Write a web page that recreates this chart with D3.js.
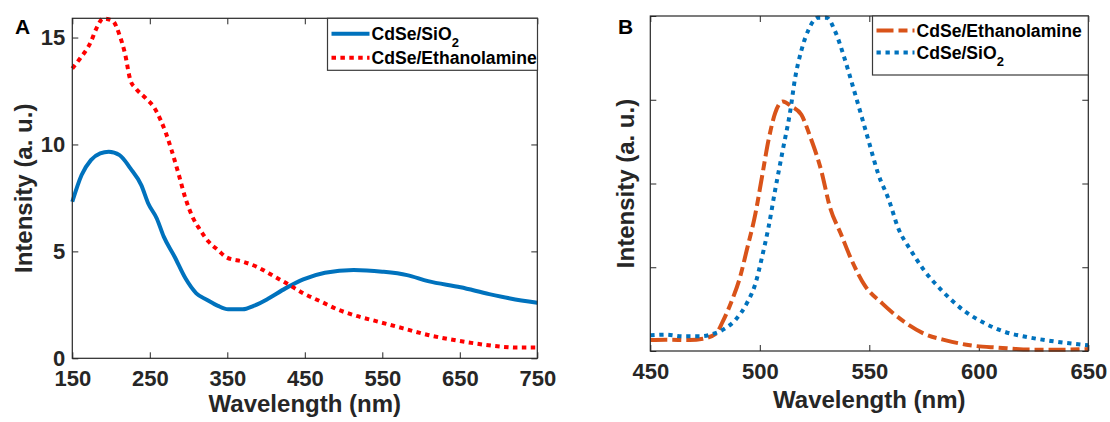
<!DOCTYPE html>
<html>
<head>
<meta charset="utf-8">
<script src="https://cdn.jsdelivr.net/npm/d3@7/dist/d3.min.js"></script>
<style>
  html, body { margin: 0; padding: 0; background: #fff; }
  svg { display: block; font-family: "Liberation Sans", Arial, sans-serif; font-weight: bold; }
</style>
</head>
<body>
<svg id="chart" width="1110" height="422"></svg>
<script>
// ---- Panel A: absorption-type spectra ----
const aSio2Wl  = [150, 162, 174, 186, 197, 211, 225, 239, 248, 259, 268, 282, 296, 310, 324, 338, 351, 370, 384, 402, 425, 448, 476, 513, 550, 582, 609, 651, 688, 715, 750];
const aSio2Int = [7.32, 8.57, 9.27, 9.58, 9.66, 9.5, 8.88, 8.1, 7.24, 6.54, 5.69, 4.75, 3.74, 3.04, 2.73, 2.45, 2.29, 2.29, 2.45, 2.77, 3.27, 3.69, 4.0, 4.13, 4.05, 3.89, 3.61, 3.32, 3.0, 2.8, 2.6];
const aEthWl   = [150, 160, 174, 181, 190, 202, 211, 218, 225, 232, 245, 255, 264, 271, 278, 287, 296, 305, 315, 326, 338, 349, 370, 388, 411, 430, 448, 471, 494, 517, 545, 577, 609, 637, 669, 702, 725, 750];
const aEthInt  = [13.55, 14.02, 14.8, 15.42, 15.89, 15.78, 15.11, 14.25, 13.0, 12.62, 12.15, 11.76, 11.14, 10.51, 9.74, 8.64, 7.48, 6.62, 6.0, 5.45, 5.06, 4.72, 4.52, 4.28, 3.82, 3.43, 3.04, 2.65, 2.26, 1.98, 1.71, 1.4, 1.09, 0.89, 0.7, 0.55, 0.5, 0.5];
const aTicksX = [150, 250, 350, 450, 550, 650, 750];
const aTicksY = [0, 5, 10, 15];

// ---- Panel B: emission spectra ----
const bEthWl  = [450, 457, 468, 474, 480, 483, 487, 491, 494, 498, 501, 504, 507, 510.5, 514.5, 519, 523, 528, 532, 537, 542, 548, 556, 566, 575, 585, 596, 609, 625, 638, 650];
const bEthInt = [0.13, 0.135, 0.13, 0.147, 0.207, 0.347, 0.586, 0.884, 1.2, 1.64, 2.08, 2.52, 2.84, 2.98, 2.92, 2.82, 2.56, 2.16, 1.72, 1.4, 1.08, 0.78, 0.566, 0.347, 0.207, 0.127, 0.068, 0.04, 0.016, 0.016, 0.024];
const bSio2Wl  = [450, 457, 465, 473, 479, 484, 489, 494, 498, 501, 504, 507, 510.5, 514, 516, 519, 522.5, 526.5, 530.5, 534.5, 538.5, 542.5, 546.5, 550, 554, 559, 563, 569, 575, 583, 593, 603, 612, 622, 633, 650];
const bSio2Int = [0.187, 0.195, 0.175, 0.175, 0.207, 0.267, 0.375, 0.566, 0.805, 1.12, 1.48, 1.92, 2.40, 2.88, 3.24, 3.59, 3.85, 3.98, 3.98, 3.81, 3.51, 3.16, 2.80, 2.48, 2.12, 1.80, 1.48, 1.20, 0.964, 0.725, 0.486, 0.327, 0.227, 0.167, 0.12, 0.068];
const bTicksX = [450, 500, 550, 600, 650];
const bTicksY = [0, 1, 2, 3, 4];

const COL_BLUE = "#0072BD";
const COL_RED = "#FF0000";
const COL_ORANGE = "#D95319";
const INK = "#262626";
const DOTS = "4.5 4.4";
const DASH_DOT = "17 5 9 5";

const svg = d3.select("#chart");

function panel(opt) {
  const g = svg.append("g");
  const x = d3.scaleLinear().domain(opt.xDomain).range([opt.left, opt.right]);
  const y = d3.scaleLinear().domain(opt.yDomain).range([opt.bottom, opt.top]);

  // ticks pointing inward on all four sides
  const tick = 6;
  g.append("g").attr("transform", `translate(0,${opt.bottom})`)
    .call(d3.axisBottom(x).tickValues(opt.xTicks).tickSizeInner(-tick).tickSizeOuter(0).tickPadding(12).tickFormat(d3.format("d")));
  g.append("g").attr("transform", `translate(0,${opt.top})`)
    .call(d3.axisTop(x).tickValues(opt.xTicks).tickSizeInner(-tick).tickSizeOuter(0).tickFormat(""));
  g.append("g").attr("transform", `translate(${opt.left},0)`)
    .call(d3.axisLeft(y).tickValues(opt.yTicks).tickSizeInner(-tick).tickSizeOuter(0).tickPadding(7)
      .tickFormat(opt.yLabels ? d3.format("d") : ""));
  g.append("g").attr("transform", `translate(${opt.right},0)`)
    .call(d3.axisRight(y).tickValues(opt.yTicks).tickSizeInner(-tick).tickSizeOuter(0).tickFormat(""));

  g.selectAll(".domain").remove();
  g.selectAll(".tick line").attr("stroke", INK).attr("stroke-width", 1);
  g.selectAll(".tick text").attr("fill", INK).attr("font-size", 22)
    .attr("font-family", '"Liberation Sans", Arial, sans-serif').attr("font-weight", "bold");

  // series
  opt.series.forEach(s => {
    const pts = s.x.map((v, i) => [v, s.y[i]]);
    g.append("path")
      .datum(pts)
      .attr("fill", "none")
      .attr("stroke", s.color)
      .attr("stroke-width", s.width)
      .attr("stroke-dasharray", s.dash || null)
      .attr("stroke-linejoin", "round")
      .attr("d", d3.line().x(d => x(d[0])).y(d => y(d[1])).curve(d3.curveMonotoneX));
  });

  // axes box
  g.append("rect")
    .attr("x", opt.left).attr("y", opt.top)
    .attr("width", opt.right - opt.left).attr("height", opt.bottom - opt.top)
    .attr("fill", "none").attr("stroke", INK).attr("stroke-width", 1.2);

  // axis titles
  g.append("text")
    .attr("x", (opt.left + opt.right) / 2).attr("y", opt.xTitleY)
    .attr("text-anchor", "middle").attr("font-size", 24).attr("fill", INK)
    .text("Wavelength (nm)");
  g.append("text")
    .attr("transform", `translate(${opt.yTitleX},${(opt.top + opt.bottom) / 2}) rotate(-90)`)
    .attr("text-anchor", "middle").attr("font-size", 24).attr("fill", INK)
    .text("Intensity (a. u.)");

  // panel letter
  g.append("text")
    .attr("x", opt.letterX).attr("y", opt.letterY)
    .attr("font-size", 21).attr("fill", "#000")
    .text(opt.letter);

  // legend
  const L = opt.legend;
  g.append("rect")
    .attr("x", L.x).attr("y", L.y).attr("width", L.w).attr("height", L.h)
    .attr("fill", "#fff").attr("stroke", "#3a3a3a").attr("stroke-width", 1.2);
  L.items.forEach((it, i) => {
    const cy = L.y + L.rowY[i];
    g.append("line")
      .attr("x1", L.x + 4).attr("x2", L.x + 42).attr("y1", cy).attr("y2", cy)
      .attr("stroke", it.color).attr("stroke-width", it.width)
      .attr("stroke-dasharray", it.dash || null);
    const t = g.append("text")
      .attr("x", L.x + 44).attr("y", cy + 6)
      .attr("font-size", 17.6).attr("fill", "#000");
    t.append("tspan").text(it.label);
    if (it.sub) {
      t.append("tspan").attr("dy", 7).attr("font-size", 13).text(it.sub);
    }
  });
}

panel({
  left: 72.3, right: 537.3, top: 18.3, bottom: 358.3,
  xDomain: [150, 750], yDomain: [0, 15.9],
  xTicks: aTicksX, yTicks: aTicksY, yLabels: true,
  xTitleY: 411.5, yTitleX: 31.5,
  letter: "A", letterX: 15, letterY: 33.5,
  series: [
    { x: aSio2Wl, y: aSio2Int, color: COL_BLUE, width: 4 },
    { x: aEthWl, y: aEthInt, color: COL_RED, width: 4, dash: DOTS }
  ],
  legend: {
    x: 327.5, y: 18.3, w: 210, h: 52, rowY: [15.5, 39.5],
    items: [
      { label: "CdSe/SiO", sub: "2", color: COL_BLUE, width: 4 },
      { label: "CdSe/Ethanolamine", color: COL_RED, width: 4, dash: DOTS }
    ]
  }
});

panel({
  left: 650.3, right: 1088.3, top: 16, bottom: 351,
  xDomain: [450, 650], yDomain: [0, 4],
  xTicks: bTicksX, yTicks: bTicksY, yLabels: false,
  xTitleY: 407.5, yTitleX: 634,
  letter: "B", letterX: 618, letterY: 34,
  series: [
    { x: bEthWl, y: bEthInt, color: COL_ORANGE, width: 4, dash: DASH_DOT },
    { x: bSio2Wl, y: bSio2Int, color: COL_BLUE, width: 4, dash: "4.3 4.7" }
  ],
  legend: {
    x: 872.5, y: 16, w: 215.8, h: 59, rowY: [14.5, 36.5],
    items: [
      { label: "CdSe/Ethanolamine", color: COL_ORANGE, width: 4, dash: DASH_DOT },
      { label: "CdSe/SiO", sub: "2", color: COL_BLUE, width: 4, dash: "4.3 4.7" }
    ]
  }
});
</script>
</body>
</html>
